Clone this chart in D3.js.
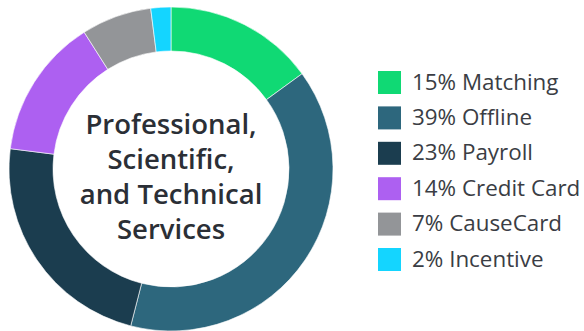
<!DOCTYPE html>
<html>
<head>
<meta charset="utf-8">
<script src="https://cdn.jsdelivr.net/npm/d3@7"></script>
<style>
  html, body { margin: 0; padding: 0; background: #ffffff; }
  svg { display: block; }
</style>
</head>
<body>
<svg id="chart" width="584" height="331"></svg>
<script>
// Share of giving by channel
const categories = ["Matching", "Offline", "Payroll", "Credit Card", "CauseCard", "Incentive"];
const shares = [15, 39, 23, 14, 7, 2];
const colors = ["#10d974", "#2d677d", "#1b3d4f", "#ad60f1", "#939598", "#14d5ff"];
const titleLines = ["Professional,", "Scientific,", "and Technical", "Services"];

const svg = d3.select("#chart");

const cx = 171, cy = 169, outerR = 162, innerR = 118;

const pie = d3.pie().sort(null).value(d => d.value);
const arc = d3.arc().innerRadius(innerR).outerRadius(outerR);
const data = categories.map((c, i) => ({ name: c, value: shares[i], color: colors[i] }));

const ring = svg.append("g").attr("transform", `translate(${cx},${cy})`);
ring.selectAll("path")
  .data(pie(data))
  .join("path")
  .attr("d", arc)
  .attr("fill", d => d.data.color)
  .attr("stroke", "#ffffff")
  .attr("stroke-width", 0.6);

// Center title
const title = ring.append("text")
  .attr("text-anchor", "middle")
  .attr("font-family", "'Open Sans', 'Noto Sans', sans-serif")
  .attr("font-weight", 600)
  .attr("font-size", 27.5)
  .attr("fill", "#2b2f36");
titleLines.forEach((t, i) => {
  title.append("tspan").attr("x", 0).attr("y", -35 + i * 35).text(t);
});

// Legend
const legendX = 378, legendY = 71, step = 35.4, box = 23;
const legend = svg.append("g");
const rows = legend.selectAll("g")
  .data(data)
  .join("g")
  .attr("transform", (d, i) => `translate(${legendX},${legendY + i * step})`);
rows.append("rect")
  .attr("width", box).attr("height", box)
  .attr("fill", d => d.color);
rows.append("text")
  .attr("x", 34)
  .attr("y", box / 2 + 7)
  .attr("font-family", "'Open Sans', 'Noto Sans', sans-serif")
  .attr("font-size", 22.4)
  .attr("fill", "#3a3d44")
  .text(d => `${d.value}% ${d.name}`);
</script>
</body>
</html>
